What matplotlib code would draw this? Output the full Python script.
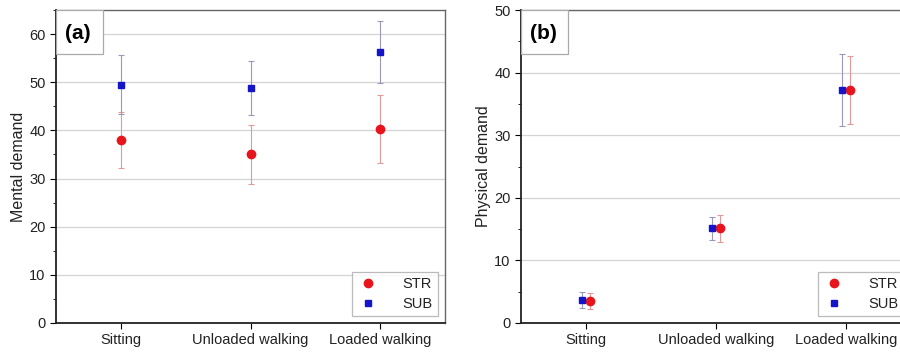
import matplotlib
matplotlib.use("Agg")
import matplotlib.pyplot as plt
import numpy as np

plt.rcParams['font.family'] = ['Liberation Sans', 'DejaVu Sans']

categories = ["Sitting", "Unloaded walking", "Loaded walking"]

# Panel (a) Mental demand
mental_str = [38.0, 35.0, 40.3]
mental_str_err = [5.8, 6.2, 7.0]
mental_sub = [49.5, 48.8, 56.3]
mental_sub_err = [6.2, 5.7, 6.4]

# Panel (b) Physical demand
phys_str = [3.5, 15.1, 37.2]
phys_str_err = [1.25, 2.15, 5.45]
phys_sub = [3.7, 15.1, 37.2]
phys_sub_err = [1.3, 1.85, 5.75]

W, H = 900, 352
fig = plt.figure(figsize=(9, 3.52), dpi=100)

red = '#e8141c'
blue = '#1414c8'
red_err = '#e09a9a'
blue_err = '#9a9ab8'

def panel(ax, s, se, b, be, offset, ylim, ylabel, label):
    x = np.arange(len(categories))
    ax.set_axisbelow(True)
    ax.yaxis.grid(True, color='#d4d4d4', linewidth=0.9)
    ax.errorbar(x + offset, s, yerr=se, fmt='none', ecolor=red_err, elinewidth=0.8, capsize=2.5, capthick=0.8, zorder=2)
    ax.errorbar(x - offset, b, yerr=be, fmt='none', ecolor=blue_err, elinewidth=0.8, capsize=2.5, capthick=0.8, zorder=2)
    ax.plot(x + offset, s, 'o', color=red, markersize=6, linestyle='none', label='STR', zorder=3)
    ax.plot(x - offset, b, 's', color=blue, markersize=5, linestyle='none', label='SUB', zorder=3)
    ax.set_xlim(-0.5, 2.5)
    ax.set_ylim(*ylim)
    ax.set_xticks(x)
    ax.set_xticklabels(categories, fontsize=10.5, color='#222222')
    ax.yaxis.set_major_locator(matplotlib.ticker.MultipleLocator(10))
    ax.yaxis.set_minor_locator(matplotlib.ticker.MultipleLocator(5))
    ax.tick_params(axis='y', which='major', direction='out', length=4, labelsize=10.5, labelcolor='#222222')
    ax.tick_params(axis='y', which='minor', direction='out', length=2.5)
    ax.tick_params(axis='x', direction='out', length=4)
    ax.set_ylabel(ylabel, fontsize=11.5, color='#222222', labelpad=2)
    for sp in ['left', 'bottom']:
        ax.spines[sp].set_color('#222222')
        ax.spines[sp].set_linewidth(1.3)
    for sp in ['top', 'right']:
        ax.spines[sp].set_color('#666666')
        ax.spines[sp].set_linewidth(1.0)
    ax.text(0.022, 0.955, label, transform=ax.transAxes, fontsize=15, fontweight='bold',
            ha='left', va='top', zorder=5)
    # label box
    bw = 47 / (ax.get_position().width * W)
    bh = 44 / (ax.get_position().height * H)
    rect = matplotlib.patches.Rectangle((0, 1 - bh), bw, bh, transform=ax.transAxes,
                                        facecolor='white', edgecolor='#aaaaaa', linewidth=0.9, zorder=4)
    ax.add_patch(rect)
    leg = ax.legend(loc='lower right', fontsize=10.5, frameon=True, fancybox=False,
                    edgecolor='#aaaaaa', borderaxespad=0.5, handletextpad=1.6,
                    labelspacing=0.35, borderpad=0.35, handlelength=1.5)
    leg.get_frame().set_linewidth(0.9)
    for t in leg.get_texts():
        t.set_color('#222222')
    return ax

ax1 = fig.add_axes([56 / W, 29 / H, (445 - 56) / W, 313 / H])
panel(ax1, mental_str, mental_str_err, mental_sub, mental_sub_err, 0.0, (0, 65), 'Mental demand', '(a)')

ax2 = fig.add_axes([521 / W, 29 / H, (911 - 521) / W, 313 / H])
panel(ax2, phys_str, phys_str_err, phys_sub, phys_sub_err, 0.031, (0, 50), 'Physical demand', '(b)')

fig.savefig('out.png', dpi=100)
